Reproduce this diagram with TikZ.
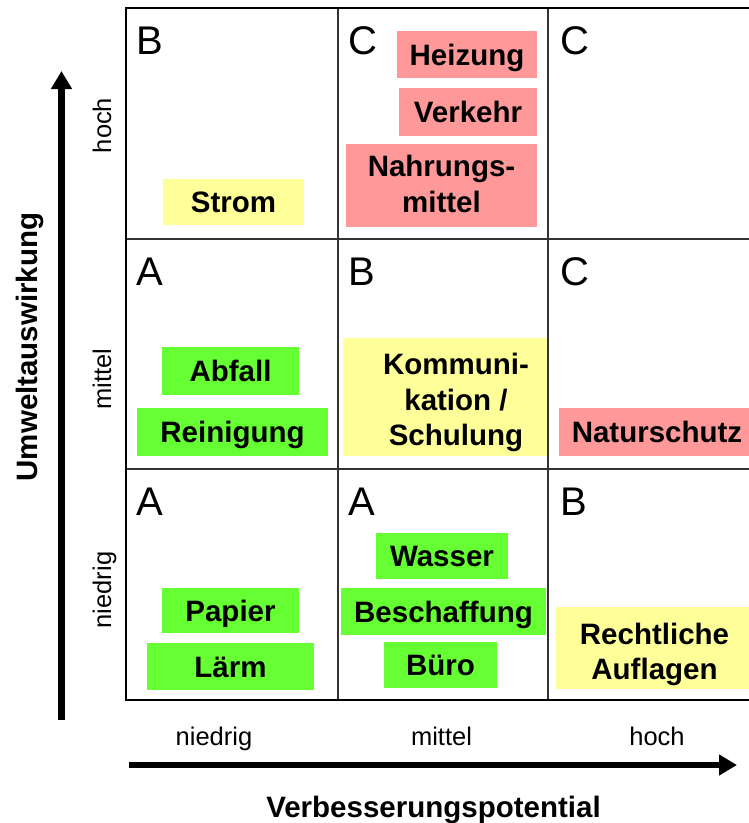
\documentclass[tikz,border=0pt]{standalone}
\usepackage{fontspec}
\setmainfont{Liberation Sans}
\usetikzlibrary{arrows.meta}
\definecolor{cgreen}{HTML}{66FF33}
\definecolor{cyellow}{HTML}{FFFF99}
\definecolor{cred}{HTML}{FF9999}
\definecolor{gridgray}{HTML}{333333}
\begin{document}
\begin{tikzpicture}[x=1pt,y=-1pt,
  lbl/.style={font=\fontsize{29.5}{35.5}\selectfont\bfseries, inner sep=0pt},
  tag/.style={lbl, fill=#1, text height=21.5pt, text depth=0pt},
  plain/.style={fill=#1, inner sep=0pt, draw=none},
  grade/.style={font=\fontsize{40}{48}\selectfont, inner sep=0pt, anchor=base west},
  axlbl/.style={font=\fontsize{25.5}{30}\selectfont, inner sep=0pt, anchor=base},
  axtitle/.style={font=\fontsize{29.5}{35}\selectfont\bfseries, inner sep=0pt, anchor=base},
  axarrow/.style={line width=6.5pt, -{Triangle[length=18pt,width=20pt]}}]
\useasboundingbox (0,0) rectangle (749,823);

% grade letters
\node[grade] (g11) at (136,54) {B};
\node[grade] (g12) at (348,54) {C};
\node[grade] (g13) at (560,54) {C};
\node[grade] (g21) at (136,285) {A};
\node[grade] (g22) at (348,285) {B};
\node[grade] (g23) at (560,285) {C};
\node[grade] (g31) at (136,515) {A};
\node[grade] (g32) at (348,515) {A};
\node[grade] (g33) at (560,515) {B};

% top row
\node[tag=cyellow, minimum width=141pt, minimum height=46pt] (strom) at (233.5,202) {Strom};
\node[tag=cred, minimum width=140pt, minimum height=47pt] (heiz) at (467,54.5) {Heizung};
\node[tag=cred, minimum width=138pt, minimum height=48pt] (verk) at (468,112) {Verkehr};
\node[plain=cred, minimum width=191pt, minimum height=83pt] (nahrbox) at (441.5,185.5) {};
\node[lbl, align=center, anchor=north] (nahr) at (441.5,155) {Nahrungs-\\mittel};

% middle row
\node[tag=cgreen, minimum width=137pt, minimum height=48pt] (abf) at (230.5,371) {Abfall};
\node[tag=cgreen, minimum width=191pt, minimum height=48pt] (rein) at (232.5,432) {Reinigung};
\node[plain=cyellow, minimum width=204pt, minimum height=118pt] (kombox) at (445,397) {};
\node[lbl, align=center, anchor=north] (kom) at (456,353) {Kommuni-\\kation /\\Schulung};
\node[tag=cred, minimum width=196pt, minimum height=48pt] (natur) at (657,432) {Naturschutz};

% bottom row
\node[tag=cgreen, minimum width=137pt, minimum height=45pt] (pap) at (230.5,610.5) {Papier};
\node[tag=cgreen, minimum width=167pt, minimum height=47pt] (laerm) at (230.5,666.5) {Lärm};
\node[tag=cgreen, minimum width=132pt, minimum height=46pt] (wass) at (442,556) {Wasser};
\node[tag=cgreen, minimum width=205pt, minimum height=47pt] (besch) at (443.5,611.5) {Beschaffung};
\node[tag=cgreen, minimum width=113pt, minimum height=46pt] (buero) at (440.5,665) {Büro};
\node[plain=cyellow, minimum width=197pt, minimum height=82pt] (rechtbox) at (654.5,648) {};
\node[lbl, align=center, anchor=north] (recht) at (654.5,622.5) {Rechtliche\\Auflagen};

% grid
\draw[gridgray, line width=1.5pt] (338,8) -- (338,700) (548,8) -- (548,700)
  (125,239) -- (755,239) (125,469) -- (755,469);
\draw[black, line width=2.5pt] (755,8) -- (126,8) -- (126,700) -- (755,700);

% axes
\coordinate (vstart) at (61.5,720);
\coordinate (vend) at (61.5,71);
\draw[axarrow] (vstart) -- (vend);
\coordinate (hstart) at (129,765);
\coordinate (hend) at (737,765);
\draw[axarrow] (hstart) -- (hend);

\node[axlbl, rotate=90] (yh) at (111,125.5) {hoch};
\node[axlbl, rotate=90] (ym) at (111,379) {mittel};
\node[axlbl, rotate=90] (yn) at (111,590) {niedrig};
\node[axtitle, rotate=90] (ytitle) at (37,347) {Umweltauswirkung};

\node[axlbl] (xn) at (214,745) {niedrig};
\node[axlbl] (xm) at (441.5,745) {mittel};
\node[axlbl] (xh) at (657,745) {hoch};
\node[axtitle] (xtitle) at (433.5,817) {Verbesserungspotential};
\end{tikzpicture}
\end{document}
